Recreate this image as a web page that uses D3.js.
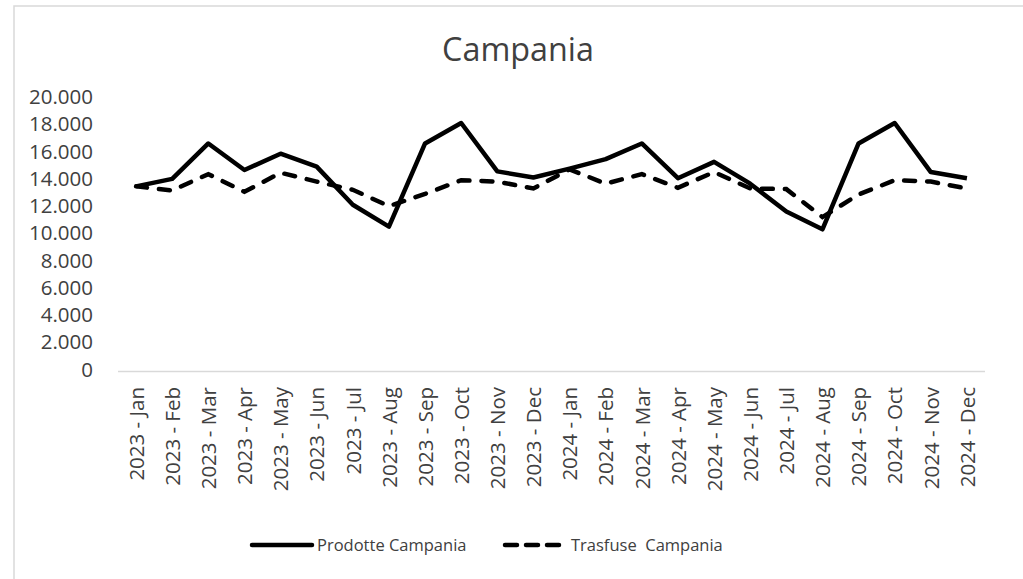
<!DOCTYPE html>
<html>
<head>
<meta charset="utf-8">
<script src="https://cdn.jsdelivr.net/npm/d3@7"></script>
<style>
  body { margin: 0; background: #fff; }
  text { font-family: "Open Sans", sans-serif; fill: #404040; }
</style>
</head>
<body>
<div id="output"></div>
<script>
var w = 1023;
var h = 579;

var months = ['Jan', 'Feb', 'Mar', 'Apr', 'May', 'Jun', 'Jul', 'Aug', 'Sep', 'Oct', 'Nov', 'Dec'];
var years = ['2023', '2024'];
var categories = [];
years.forEach(function (y) {
	months.forEach(function (m) { categories.push(y + ' - ' + m); });
});

var prodotte = [13550, 14100, 16700, 14750, 15950, 15000, 12200, 10600, 16700, 18200, 14650, 14200,
	14850, 15550, 16700, 14150, 15350, 13750, 11700, 10400, 16700, 18200, 14600, 14150];
var trasfuse = [13550, 13250, 14450, 13150, 14550, 13900, 13300, 12100, 13000, 14000, 13900, 13400,
	14800, 13750, 14450, 13450, 14600, 13400, 13350, 11300, 12950, 14000, 13900, 13400];
var yTicks = [0, 2000, 4000, 6000, 8000, 10000, 12000, 14000, 16000, 18000, 20000];

var plotLeft = 118, plotRight = 985, plotTop = 98.5, plotBottom = 371;

var svg = d3.select('#output').append('svg')
	.attr('width', w)
	.attr('height', h);

// chart frame (only top / left edge visible in the picture)
svg.append('rect')
	.attr('x', 14).attr('y', 6)
	.attr('width', 1030).attr('height', 600)
	.attr('fill', 'none')
	.attr('stroke', '#d9d9d9')
	.attr('stroke-width', 1.5);

svg.append('text')
	.attr('x', 518).attr('y', 61)
	.attr('text-anchor', 'middle')
	.attr('font-size', 32.3)
	.text('Campania');

var x = d3.scalePoint().domain(categories).range([plotLeft, plotRight]).padding(0.5);
var y = d3.scaleLinear().domain([0, 20000]).range([plotBottom, plotTop]);

var fmt = function (d) { return d === 0 ? '0' : d3.format(',')(d).replace(/,/g, '.'); };

var yAxis = svg.append('g')
	.attr('transform', 'translate(' + plotLeft + ',0)')
	.call(d3.axisLeft(y).tickValues(yTicks).tickFormat(fmt).tickSize(0).tickPadding(25));
yAxis.select('.domain').remove();
yAxis.selectAll('text')
	.attr('font-family', '"Open Sans", sans-serif')
	.attr('font-size', 20.5)
	.attr('fill', '#404040')
	.attr('dy', '0.25em');

var xAxis = svg.append('g')
	.attr('transform', 'translate(0,' + plotBottom + ')')
	.call(d3.axisBottom(x).tickSize(0));
xAxis.select('.domain')
	.attr('d', 'M' + plotLeft + ',0.5H' + plotRight)
	.attr('stroke', '#d9d9d9')
	.attr('stroke-width', 1.5);
xAxis.selectAll('text')
	.attr('font-family', '"Open Sans", sans-serif')
	.attr('font-size', 20.5)
	.attr('fill', '#404040')
	.attr('text-anchor', 'end')
	.attr('transform', 'rotate(-90)')
	.attr('x', -16)
	.attr('y', 0)
	.attr('dy', '0.35em');

var line = d3.line()
	.x(function (d, i) { return x(categories[i]); })
	.y(function (d) { return y(d); });

svg.append('path')
	.datum(prodotte)
	.attr('d', line)
	.attr('fill', 'none')
	.attr('stroke', '#000')
	.attr('stroke-width', 4.5)
	.attr('stroke-linejoin', 'round');

svg.append('path')
	.datum(trasfuse)
	.attr('d', line)
	.attr('fill', 'none')
	.attr('stroke', '#000')
	.attr('stroke-width', 4.5)
	.attr('stroke-linecap', 'round')
	.attr('stroke-dasharray', '11,12');

// legend
var legend = svg.append('g');
legend.append('line')
	.attr('x1', 252).attr('x2', 312).attr('y1', 545).attr('y2', 545)
	.attr('stroke', '#000').attr('stroke-width', 4.5).attr('stroke-linecap', 'round');
legend.append('text')
	.attr('x', 317).attr('y', 545).attr('dy', '0.35em')
	.attr('font-size', 16.5)
	.text('Prodotte Campania');
legend.append('line')
	.attr('x1', 505).attr('x2', 560).attr('y1', 545).attr('y2', 545)
	.attr('stroke', '#000').attr('stroke-width', 4.5).attr('stroke-linecap', 'round')
	.attr('stroke-dasharray', '12,9');
legend.append('text')
	.attr('x', 571).attr('y', 545).attr('dy', '0.35em')
	.attr('font-size', 16.5)
	.attr('xml:space', 'preserve')
	.text('Trasfuse  Campania');
</script>
</body>
</html>
